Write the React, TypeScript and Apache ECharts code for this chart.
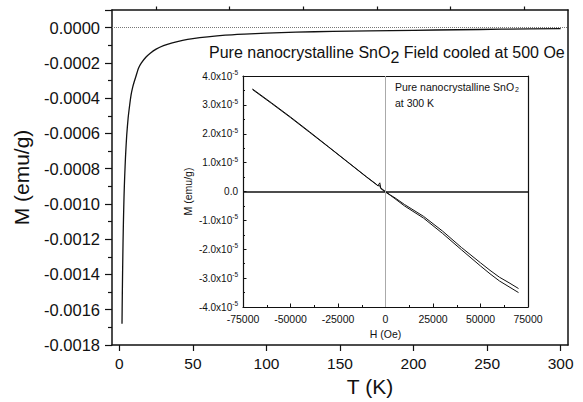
import React, { useEffect, useRef } from "react";
import * as echarts from "echarts";

// Main panel: field-cooled M(T)
const mainT = [1.8, 2.0, 2.2, 2.5, 2.8, 3.2, 3.6, 4.2, 5, 6, 7, 8, 9, 10, 11.5, 13, 15, 18, 21, 25, 30, 36, 43, 50, 60, 72, 85, 100, 120, 145, 170, 200, 230, 260, 300];
const mainM = [-0.00168, -0.00152, -0.00139, -0.00122, -0.00109, -0.00095, -0.00085, -0.00073, -0.00061, -0.00051, -0.00044, -0.00038, -0.00034, -0.00031, -0.00027, -0.00023, -0.0002, -0.000168, -0.000145, -0.000122, -0.000102, -0.000086, -0.000072, -0.000062, -0.000052, -0.000043, -0.000037, -0.000031, -0.000026, -0.000021, -0.000018, -0.000015, -0.000012, -0.000009, -0.000006];
const mainXTicks = [0, 50, 100, 150, 200, 250, 300];
const mainXMinor = [25, 75, 125, 175, 225, 275];

// Inset: M(H) at 300 K, two branches
const insetH = [-70000, -60000, -50000, -40000, -30000, -20000, -10000, -5000, -4000, -3000, -2500, 0, 2500, 5000, 10000, 20000, 30000, 40000, 50000, 55000, 60000, 65000, 70000];
const insetMUp = [3.55e-5, 3.07e-5, 2.58e-5, 2.07e-5, 1.55e-5, 1.03e-5, 0.51e-5, 0.26e-5, 0.2e-5, 0.3e-5, 0.12e-5, 0.0, -0.12e-5, -0.22e-5, -0.45e-5, -0.86e-5, -1.37e-5, -1.94e-5, -2.47e-5, -2.73e-5, -2.97e-5, -3.16e-5, -3.36e-5];
const insetMDown = [3.53e-5, 3.05e-5, 2.56e-5, 2.05e-5, 1.54e-5, 1.02e-5, 0.5e-5, 0.25e-5, 0.2e-5, 0.2e-5, 0.1e-5, -0.02e-5, -0.13e-5, -0.25e-5, -0.5e-5, -0.92e-5, -1.45e-5, -2.02e-5, -2.58e-5, -2.85e-5, -3.1e-5, -3.3e-5, -3.5e-5];

const FONT = "Liberation Sans, Arial, sans-serif";
const INK = "#111";

export default function App() {
  const ref = useRef<HTMLDivElement>(null);
  useEffect(() => {
    if (!ref.current) return;
    const chart = echarts.init(ref.current, undefined, { renderer: "svg" });
    const frameAxis = (gridIndex: number, position: string, w: number) => ({
      gridIndex,
      type: "value",
      position,
      min: 0,
      max: 1,
      axisLine: { show: true, onZero: false, lineStyle: { color: INK, width: w } },
      axisTick: { show: false },
      axisLabel: { show: false },
      splitLine: { show: false },
    });
    const option: any = {
      animation: false,
      backgroundColor: "#fff",
      textStyle: { fontFamily: FONT, color: INK },
      grid: [
        { left: 112, right: 15, top: 10, bottom: 55 },
        { left: 243, right: 55, top: 76, bottom: 95 },
      ],
      xAxis: [
        {
          gridIndex: 0,
          type: "value",
          min: -5,
          max: 305,
          axisLine: { onZero: false, lineStyle: { color: INK, width: 1.5 } },
          axisTick: { customValues: mainXTicks, length: 6, lineStyle: { color: INK, width: 1.2 } },
          axisLabel: { customValues: mainXTicks, fontSize: 15.5, margin: 10, color: INK, fontFamily: FONT },
          splitLine: { show: false },
          name: "T (K)",
          nameLocation: "middle",
          nameGap: 31,
          nameTextStyle: { fontSize: 21, color: INK, fontFamily: FONT, padding: [0, 0, 0, 60] },
        },
        {
          gridIndex: 0,
          type: "value",
          min: -5,
          max: 305,
          axisLine: { show: false, onZero: false },
          axisTick: { customValues: mainXMinor, length: 3.5, lineStyle: { color: INK, width: 1.2 } },
          axisLabel: { show: false },
          splitLine: { show: false },
        },
        frameAxis(0, "top", 1.5),
        {
          gridIndex: 1,
          type: "value",
          min: -75000,
          max: 75000,
          interval: 25000,
          axisLine: { onZero: false, lineStyle: { color: INK, width: 1.2 } },
          axisTick: { inside: true, length: 3.5, lineStyle: { color: INK } },
          minorTick: { show: true, splitNumber: 2, length: 2, lineStyle: { color: INK } },
          axisLabel: {
            fontSize: 10.5,
            margin: 6,
            color: INK,
            fontFamily: FONT,
            formatter: (v: number) => String(Math.round(v)),
          },
          splitLine: { show: false },
          name: "H (Oe)",
          nameLocation: "middle",
          nameGap: 20,
          nameTextStyle: { fontSize: 10.5, color: INK, fontFamily: FONT },
        },
        frameAxis(1, "top", 1.2),
      ],
      yAxis: [
        {
          gridIndex: 0,
          type: "value",
          min: -0.0018,
          max: 0.0001,
          interval: 0.0002,
          axisLine: { onZero: false, lineStyle: { color: INK, width: 1.5 } },
          axisTick: { length: 7, lineStyle: { color: INK, width: 1.2 } },
          minorTick: { show: true, splitNumber: 2, length: 4, lineStyle: { color: INK, width: 1.2 } },
          axisLabel: {
            fontSize: 16.5,
            margin: 12,
            color: INK,
            fontFamily: FONT,
            showMaxLabel: false,
            formatter: (v: number) => (Math.abs(v) < 1e-10 ? "0.0000" : v.toFixed(4)),
          },
          splitLine: { show: false },
          name: "M (emu/g)",
          nameLocation: "middle",
          nameGap: 80,
          nameTextStyle: { fontSize: 21, color: INK, fontFamily: FONT },
        },
        frameAxis(0, "right", 1.5),
        {
          gridIndex: 1,
          type: "value",
          min: -4e-5,
          max: 4e-5,
          interval: 1e-5,
          axisLine: { onZero: false, lineStyle: { color: INK, width: 1.2 } },
          axisTick: { inside: true, length: 3.5, lineStyle: { color: INK } },
          minorTick: { show: true, splitNumber: 2, length: 2, lineStyle: { color: INK } },
          axisLabel: {
            fontSize: 10,
            margin: 5,
            color: INK,
            fontFamily: FONT,
            formatter: (v: number) =>
              Math.abs(v) < 1e-12 ? "0.0" : `{n|${(v * 1e5).toFixed(1)}x10}{s|-5}`,
            rich: {
              n: { fontSize: 10, color: INK, fontFamily: FONT },
              s: { fontSize: 6.5, color: INK, fontFamily: FONT, padding: [0, 0, 7, 0] },
            },
          },
          splitLine: { show: false },
          name: "M (emu/g)",
          nameLocation: "middle",
          nameGap: 50,
          nameTextStyle: { fontSize: 10.5, color: INK, fontFamily: FONT },
        },
        frameAxis(1, "right", 1.2),
      ],
      series: [
        {
          type: "line",
          xAxisIndex: 0,
          yAxisIndex: 0,
          data: mainT.map((t, i) => [t, mainM[i]]),
          showSymbol: false,
          smooth: 0.2,
          lineStyle: { color: INK, width: 1.3 },
          markLine: {
            silent: true,
            symbol: "none",
            label: { show: false },
            lineStyle: { color: "#777", type: "dotted", width: 1 },
            data: [{ yAxis: 0 }],
          },
        },
        {
          type: "line",
          xAxisIndex: 3,
          yAxisIndex: 2,
          data: insetH.map((h, i) => [h, insetMUp[i]]),
          showSymbol: false,
          lineStyle: { color: INK, width: 1 },
          markLine: {
            silent: true,
            symbol: "none",
            label: { show: false },
            data: [
              { yAxis: 0, lineStyle: { color: INK, width: 1.5, type: "solid" } },
              { xAxis: 0, lineStyle: { color: "#aaa", width: 1, type: "solid" } },
            ],
          },
        },
        {
          type: "line",
          xAxisIndex: 3,
          yAxisIndex: 2,
          data: insetH.map((h, i) => [h, insetMDown[i]]),
          showSymbol: false,
          lineStyle: { color: INK, width: 1 },
        },
      ],
      graphic: [
        {
          type: "text",
          x: 209,
          y: 52,
          style: {
            text: "Pure nanocrystalline SnO{s|2} Field cooled at 500 Oe",
            fontSize: 16,
            fontFamily: FONT,
            fill: INK,
            verticalAlign: "middle",
            rich: { s: { fontSize: 16, fontFamily: FONT, fill: INK, padding: [10, 0, 0, 0] } },
          },
        },
        {
          type: "text",
          x: 395,
          y: 87,
          style: {
            text: "Pure nanocrystalline SnO{s|2}",
            fontSize: 10.5,
            fontFamily: FONT,
            fill: INK,
            verticalAlign: "middle",
            rich: { s: { fontSize: 7, fontFamily: FONT, fill: INK, padding: [5, 0, 0, 1] } },
          },
        },
        {
          type: "text",
          x: 395,
          y: 103,
          style: { text: "at 300 K", fontSize: 10.5, fontFamily: FONT, fill: INK, verticalAlign: "middle" },
        },
      ],
    };
    chart.setOption(option);
    return () => chart.dispose();
  }, []);
  return (
    <div
      ref={ref}
      style={{ position: "fixed", left: 0, top: 0, width: 583, height: 402, background: "#fff" }}
    />
  );
}
